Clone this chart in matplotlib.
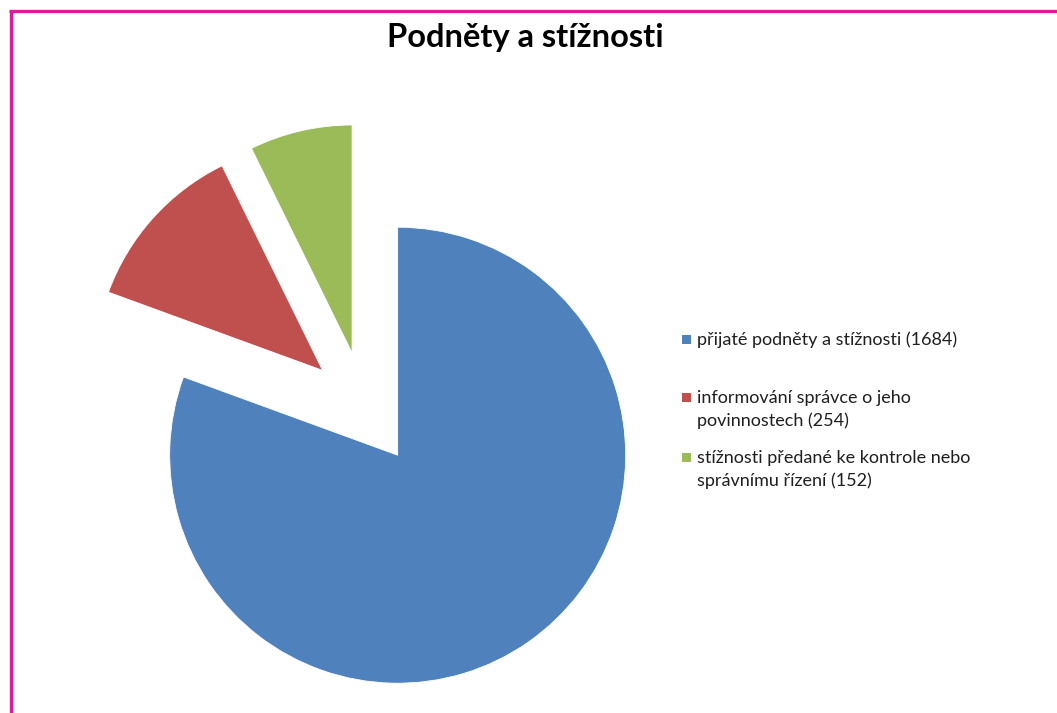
import matplotlib
matplotlib.use("Agg")
import matplotlib.pyplot as plt
from matplotlib.lines import Line2D
from matplotlib.patches import Rectangle

# ---- data ----
categories = [
    "přijaté podněty a stížnosti (1684)",
    "informování správce o jeho\npovinnostech (254)",
    "stížnosti předané ke kontrole nebo\nsprávnímu řízení (152)",
]
values = [1684, 254, 152]
colors = ["#4F81BD", "#C0504D", "#9BBB59"]
title = "Podněty a stížnosti"

W, H = 1057, 713
fig = plt.figure(figsize=(W / 100, H / 100), dpi=100)
fig.patch.set_facecolor("white")

FONT = ["Lato", "DejaVu Sans"]

# pie axes mapped so that 1 data unit = pie radius in pixels
R = 228.0
cx, cy = 365.0, 408.5  # pie centre (pixels from top-left)
ax = fig.add_axes([0, 0, 1, 1])
ax.pie(values, colors=colors, startangle=90, counterclock=False,
       explode=[0.25, 0.25, 0.25], radius=1.0,
       wedgeprops=dict(linewidth=0.6, edgecolor="white"))
ax.set_xlim(-cx / R, (W - cx) / R)
ax.set_ylim(-(H - cy) / R, cy / R)
ax.set_aspect("auto")
ax.axis("off")

# title
fig.text(525 / W, 1 - 46.7 / H, title, ha="center", va="baseline",
         fontsize=23.5, fontweight="bold", family=FONT, color="#000000")

# legend (manual, Excel-like)
baselines = [345, 403, 463]
line_gap = 22.7
for lab, col, yb in zip(categories, colors, baselines):
    for i, line in enumerate(lab.split("\n")):
        fig.text(697 / W, 1 - (yb + i * line_gap) / H, line, ha="left",
                 va="baseline", fontsize=13, family=FONT, color="#1f1f1f")
    sz = 9
    fig.patches.append(Rectangle((682 / W, 1 - (yb - 1) / H),
                                 sz / W, sz / H, transform=fig.transFigure,
                                 facecolor=col, edgecolor="none"))

# magenta frame (left and top)
mag = "#E0189A"
fig.add_artist(Line2D([10.5 / W, 10.5 / W], [0, 1 - 10.5 / H],
                      transform=fig.transFigure, color=mag, linewidth=2.4,
                      solid_capstyle="butt"))
fig.add_artist(Line2D([9.3 / W, 1], [1 - 11 / H, 1 - 11 / H],
                      transform=fig.transFigure, color=mag, linewidth=2.4,
                      solid_capstyle="butt"))

fig.savefig("out.png", dpi=100, facecolor="white")
